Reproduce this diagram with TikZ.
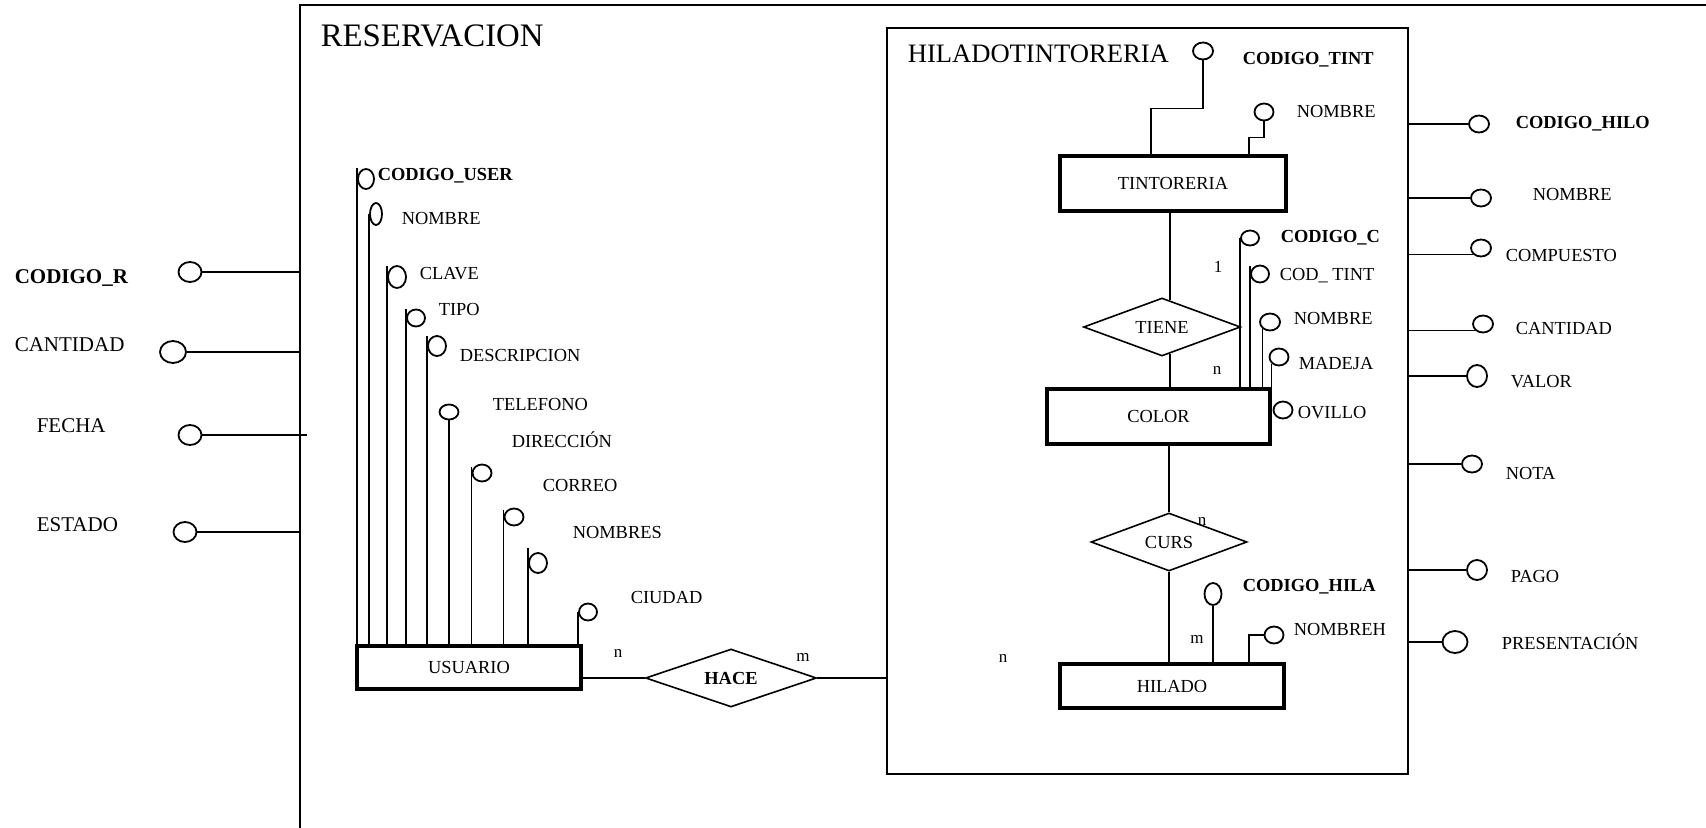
\documentclass[tikz,border=0pt]{standalone}
\usepackage{fontspec}
\setmainfont{Liberation Serif}
\usetikzlibrary{shapes.geometric}

\begin{document}
\begin{tikzpicture}[x=0.5pt, y=-0.5pt, line width=0.8pt,
		ent/.style={draw, line width=2pt, inner sep=0pt, font=\fontsize{9.2}{11}\selectfont},
		rel/.style={draw, diamond, aspect=3, inner sep=0pt, minimum height=29pt, font=\fontsize{9.2}{11}\selectfont},
		att/.style={draw, ellipse, inner sep=0pt, line width=0.9pt, minimum width=10pt, minimum height=8.5pt},
		lbl/.style={anchor=base west, inner sep=0pt, font=\fontsize{9.2}{11}\selectfont},
		biglbl/.style={lbl, font=\fontsize{10.5}{12}\selectfont},
		card/.style={inner sep=0pt, font=\fontsize{8.5}{10}\selectfont}]
	\useasboundingbox (0,0) rectangle (1706,828);
	
	\draw[line width=0.7pt] (300,828) -- (300,5) -- (1706,5);
	\coordinate (resL) at (300,0);
	\node[lbl, font=\fontsize{16.4}{19}\selectfont] (tres) at (320,47) {RESERVACION};
	
	\node[biglbl] (tcr) at (14,284) {\textbf{CODIGO\_R}};
	\node[att, minimum width=11.5pt, minimum height=10pt] (cr) at (190,272) {};
	\draw (cr.east) -- (cr.east -| resL);
	\node[biglbl] (tca) at (14,351) {CANTIDAD};
	\node[att, minimum width=13pt, minimum height=11pt] (ca) at (173,352) {};
	\draw (ca.east) -- (ca.east -| resL);
	\node[biglbl] (tfe) at (36,432) {FECHA};
	\node[att, minimum width=11.5pt, minimum height=10pt] (fe) at (190,435) {};
	\draw (fe.east) -- ([xshift=3.5pt]fe.east -| resL);
	\node[biglbl] (tes) at (36,531) {ESTADO};
	\node[att, minimum width=11.5pt, minimum height=10pt] (es) at (185,532) {};
	\draw (es.east) -- (es.east -| resL);
	
	\node[ent, minimum width=112pt, minimum height=21.5pt] (usr) at (469,667.5) {USUARIO};
	
	\node[lbl] (tcu) at (377,181) {\textbf{CODIGO\_USER}};
	\node[att, minimum width=8pt, minimum height=10pt] (cu) at (366,179) {};
	\draw ([yshift=5.5pt]cu.west) -- (cu.west |- usr.north);
	\node[lbl] (tnu) at (401,225) {NOMBRE};
	\node[att, minimum width=6pt, minimum height=11pt] (nu) at (376,214) {};
	\draw (nu.west) -- (nu.west |- usr.north);
	\node[lbl] (tcl) at (419,280) {CLAVE};
	\node[att, minimum width=9pt, minimum height=11pt] (cl) at (397,277) {};
	\draw ([yshift=5.5pt]cl.west) -- (cl.west |- usr.north);
	\node[lbl] (tti) at (438,315) {TIPO};
	\node[att, minimum width=9pt] (ti) at (416,318) {};
	\draw ([yshift=4.5pt]ti.west) -- (ti.west |- usr.north);
	\node[lbl] (tde) at (459,362) {DESCRIPCION};
	\node[att, minimum width=9pt, minimum height=10pt] (de) at (437,346) {};
	\draw ([yshift=5pt]de.west) -- (de.west |- usr.north);
	\node[lbl] (tte) at (492,410) {TELEFONO};
	\node[att, minimum width=9.5pt, minimum height=7.5pt] (te) at (449,412) {};
	\draw (te.south) -- (te.south |- usr.north);
	\node[lbl] (tdi) at (511,447) {DIRECCIÓN};
	\node[att, minimum width=9.5pt] (di) at (482,473) {};
	\draw ([yshift=3pt]di.west) -- (di.west |- usr.north);
	\node[lbl] (tco) at (542,491) {CORREO};
	\node[att, minimum width=9.5pt] (co) at (514,517) {};
	\draw ([yshift=3.5pt]co.west) -- (co.west |- usr.north);
	\node[lbl] (tns) at (572,538) {NOMBRES};
	\node[att, minimum width=9pt, minimum height=10pt] (ns) at (538,563) {};
	\draw ([yshift=7.5pt]ns.west) -- (ns.west |- usr.north);
	\node[lbl] (tci) at (630,603) {CIUDAD};
	\node[att, minimum width=9pt] (ci) at (588,612) {};
	\draw (ci.west) -- (ci.west |- usr.north);
	
	\node[draw, inner sep=0pt, minimum width=260.5pt, minimum height=373pt] (hbox) at (1147.5,401) {};
	\node[lbl, font=\fontsize{13.3}{15}\selectfont] (thi) at (907,62.5) {HILADOTINTORERIA};
	
	\node[rel, minimum width=85.5pt] (hace) at (731,678) {\textbf{HACE}};
	\draw (usr.east |- hace.west) -- (hace.west);
	\draw (hace.east) -- (hace.east -| hbox.west);
	\node[card] (cn1) at (618,653) {n};
	\node[card] (cm1) at (803,657) {m};
	\node[card] (cn2) at (1003,658) {n};
	
	\coordinate (spine) at (1170,0);
	\node[ent, minimum width=113pt, minimum height=27.5pt] (tint) at (1173,183.5) {TINTORERIA};
	\node[rel, minimum width=78.5pt] (tiene) at (1162,327) {TIENE};
	\node[ent, minimum width=111.5pt, minimum height=27.5pt] (color) at (1158.5,416.5) {COLOR};
	\node[rel, minimum width=78pt] (curs) at (1169,542) {CURS};
	\node[ent, minimum width=112pt, minimum height=22pt] (hil) at (1172,686) {HILADO};
	\draw (tint.south -| spine) -- ([yshift=-1.5pt]tiene.north -| spine);
	\draw ([yshift=1.5pt]tiene.south -| spine) -- (color.north -| spine);
	\draw (color.south -| curs.north) -- (curs.north);
	\draw (curs.south) -- (curs.south |- hil.north);
	\node[card] (c1) at (1218,267) {1};
	\node[card] (cn3) at (1217,370) {n};
	\node[card] (cn4) at (1202,521) {n};
	\node[card] (cm2) at (1197,639) {m};
	
	\node[lbl] (tct) at (1242,65) {\textbf{CODIGO\_TINT}};
	\node[att] (ct) at (1203,51) {};
	\draw (ct.south) -- ++(0,48) -| ([xshift=-11pt]tint.north);
	\node[lbl] (tnt) at (1296,118) {NOMBRE};
	\node[att, minimum width=9.5pt] (nt) at (1264,112) {};
	\draw (nt.south) -- ++(0,16) -| ([xshift=38pt]tint.north);
	
	\node[lbl] (tcc) at (1280,243) {\textbf{CODIGO\_C}};
	\node[att, minimum width=9pt, minimum height=7.5pt] (cc) at (1250,238) {};
	\draw (cc.west) -- (cc.west |- color.north);
	\node[lbl] (tctc) at (1279,281) {COD\_ TINT};
	\node[att, minimum width=9pt] (ctc) at (1260,274) {};
	\draw ([yshift=4pt]ctc.west) -- (ctc.west |- color.north);
	\node[lbl] (tnc) at (1293,325) {NOMBRE};
	\node[att] (nc) at (1270,322) {};
	\draw (nc.south west) -- (nc.south west |- color.north);
	\node[lbl] (tma) at (1298,370) {MADEJA};
	\node[att, minimum width=9.5pt] (ma) at (1279,357) {};
	\draw (ma.south west) -- (ma.south west |- color.north);
	\node[lbl] (tov) at (1297,418) {OVILLO};
	\node[att, minimum width=9.5pt] (ov) at (1283,410) {};
	
	\node[lbl] (tchh) at (1242,591) {\textbf{CODIGO\_HILA}};
	\node[att, minimum width=8.5pt, minimum height=11pt] (chh) at (1213,594) {};
	\draw (chh.south) -- (chh.south |- hil.north);
	\node[lbl] (tnh) at (1293,635) {NOMBREH};
	\node[att, minimum width=9.5pt] (nh) at (1274,635) {};
	\draw (nh.west) -| ([xshift=38.5pt]hil.north);
	
	\node[att] (chl) at (1479,124) {};
	\node[lbl] (tchl) at (1515,129) {\textbf{CODIGO\_HILO}};
	\draw (chl.west) -- (chl.west -| hbox.east);
	\node[att] (nhl) at (1481,198) {};
	\node[lbl] (tnhl) at (1532,201) {NOMBRE};
	\draw (nhl.west) -- (nhl.west -| hbox.east);
	\node[att] (cph) at (1481,248) {};
	\node[lbl] (tcph) at (1505,262) {COMPUESTO};
	\draw (cph.south west) -- (cph.south west -| hbox.east);
	\node[att] (cah) at (1483,324) {};
	\node[lbl] (tcah) at (1515,335) {CANTIDAD};
	\draw (cah.south west) -- (cah.south west -| hbox.east);
	\node[att, minimum height=11pt] (vah) at (1477,376) {};
	\node[lbl] (tvah) at (1510,387) {VALOR};
	\draw (vah.west) -- (vah.west -| hbox.east);
	\node[att] (noh) at (1472,464) {};
	\node[lbl] (tnoh) at (1505,479) {NOTA};
	\draw (noh.west) -- (noh.west -| hbox.east);
	\node[att, minimum height=10pt] (pah) at (1477,570) {};
	\node[lbl] (tpah) at (1510,582) {PAGO};
	\draw (pah.west) -- (pah.west -| hbox.east);
	\node[att, minimum width=12.5pt, minimum height=11pt] (prh) at (1455,642) {};
	\node[lbl] (tprh) at (1501,649) {PRESENTACIÓN};
	\draw (prh.west) -- (prh.west -| hbox.east);
\end{tikzpicture}
\end{document}
